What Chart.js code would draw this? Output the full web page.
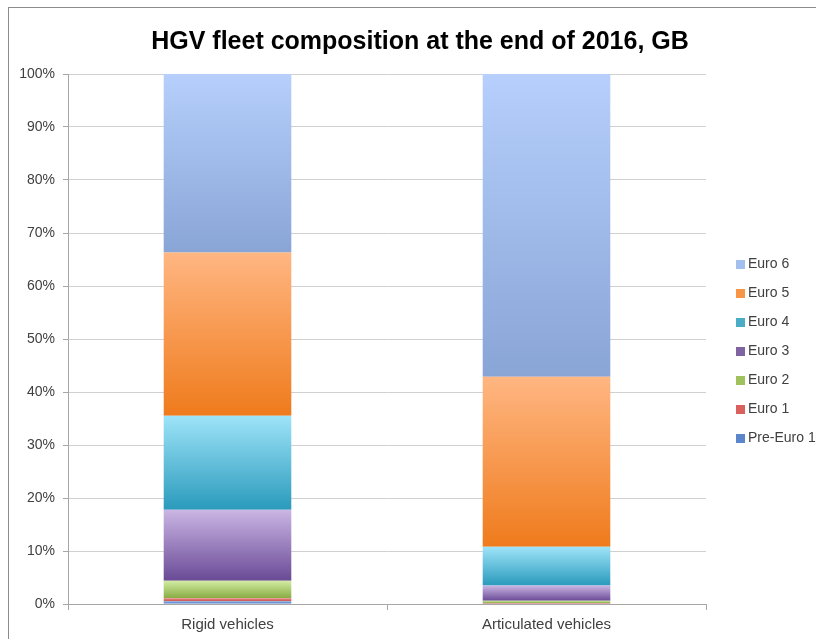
<!DOCTYPE html>
<html><head><meta charset="utf-8">
<script src="https://cdn.jsdelivr.net/npm/chart.js@4"></script>
<style>html,body{margin:0;padding:0;background:#fff}#wrap{width:816px;height:639px}</style>
</head><body><div id="wrap"><canvas id="c" width="816" height="639"></canvas></div>
<script>
const categories = ["Rigid vehicles", "Articulated vehicles"];
const seriesLabels = ["Pre-Euro 1", "Euro 1", "Euro 2", "Euro 3", "Euro 4", "Euro 5", "Euro 6"];
const preEuro1 = [0.5, 0.1];
const euro1 = [0.6, 0.1];
const euro2 = [3.3, 0.4];
const euro3 = [13.4, 2.9];
const euro4 = [17.7, 7.3];
const euro5 = [30.8, 32.1];
const euro6 = [33.7, 57.1];
const yTicks = [0, 10, 20, 30, 40, 50, 60, 70, 80, 90, 100];

const seriesValues = [preEuro1, euro1, euro2, euro3, euro4, euro5, euro6];
const gradTop = ["#86a8e0", "#ee8a86", "#d3eda4", "#cbb6e4", "#9ee4f8", "#ffb682", "#b6cffc"];
const gradBottom = ["#4a78c2", "#c4504c", "#88ab42", "#694a96", "#2a9abc", "#ef7b1c", "#89a5d6"];
const legendColors = ["#5b86cc", "#d9605c", "#9fc25e", "#8064a2", "#4bacc6", "#f79646", "#a3bfee"];

function makeGradient(ctx, di) {
  const chart = ctx.chart;
  const y = chart.scales && chart.scales.y;
  if (!chart.chartArea || !y) return legendColors[di];
  const idx = ctx.dataIndex;
  let base = 0;
  for (let k = 0; k < di; k++) base += seriesValues[k][idx];
  const top = base + seriesValues[di][idx];
  const y0 = y.getPixelForValue(top);
  const y1 = y.getPixelForValue(base);
  if (!isFinite(y0) || !isFinite(y1) || y0 === y1) return legendColors[di];
  const g = chart.ctx.createLinearGradient(0, y0, 0, y1);
  g.addColorStop(0, gradTop[di]);
  g.addColorStop(1, gradBottom[di]);
  return g;
}

const datasets = seriesValues.map((vals, i) => ({
  label: seriesLabels[i],
  data: vals,
  backgroundColor: (ctx) => makeGradient(ctx, i),
  borderWidth: 0,
  barPercentage: 0.4,
  categoryPercentage: 1.0
}));

const frameAndLegend = {
  id: 'frameAndLegend',
  afterDraw(chart) {
    const c = chart.ctx;
    c.save();
    c.strokeStyle = '#8c8c8c';
    c.lineWidth = 1;
    c.strokeRect(8.5, 7.5, 1000, 1000);
    const ca = chart.chartArea;
    const n = chart.data.datasets.length;
    const step = 29;
    const mid = (ca.top + ca.bottom) / 2 + 12;
    const startY = mid - step * (n - 1) / 2;
    c.font = '14px "Liberation Sans", Arial, sans-serif';
    c.textBaseline = 'middle';
    c.textAlign = 'left';
    for (let j = 0; j < n; j++) {
      const di = n - 1 - j;
      const yy = startY + j * step;
      c.fillStyle = legendColors[di];
      c.fillRect(736, Math.round(yy - 4), 9, 9);
      c.fillStyle = '#404040';
      c.fillText(chart.data.datasets[di].label, 748, yy + 0.5);
    }
    c.restore();
  }
};

new Chart(document.getElementById('c'), {
  type: 'bar',
  data: { labels: categories, datasets },
  options: {
    responsive: false,
    animation: false,
    layout: { padding: { left: 14, right: -10, top: 0, bottom: 0 } },
    plugins: {
      legend: { display: false },
      tooltip: { enabled: false },
      title: {
        display: true,
        text: 'HGV fleet composition at the end of 2016, GB',
        color: '#000',
        font: { family: '"Liberation Sans", Arial, sans-serif', size: 25, weight: 'bold' },
        padding: { top: 27, bottom: 17 }
      }
    },
    scales: {
      x: {
        stacked: true,
        offset: true,
        grid: { display: true, drawOnChartArea: false, drawTicks: true, tickLength: 6, offset: true, color: '#a6a6a6' },
        border: { display: true, color: '#a6a6a6' },
        ticks: { color: '#404040', padding: 7, font: { family: '"Liberation Sans", Arial, sans-serif', size: 15, lineHeight: 1.0 } }
      },
      y: {
        stacked: true,
        min: 0, max: 100,
        afterFit(s) { s.width = 54; },
        afterBuildTicks(s) { s.ticks = yTicks.map(v => ({ value: v })); },
        grid: { color: '#d0d0d0', tickLength: 5, drawTicks: true, tickColor: '#a6a6a6' },
        border: { display: true, color: '#a6a6a6' },
        ticks: { color: '#404040', padding: 8, callback: v => v + '%', font: { family: '"Liberation Sans", Arial, sans-serif', size: 14 } }
      },
      yRight: {
        position: 'right',
        display: true,
        afterFit(s) { s.width = 120; },
        grid: { display: false },
        border: { display: false },
        ticks: { display: false }
      }
    }
  },
  plugins: [frameAndLegend]
});
</script>
</body></html>
